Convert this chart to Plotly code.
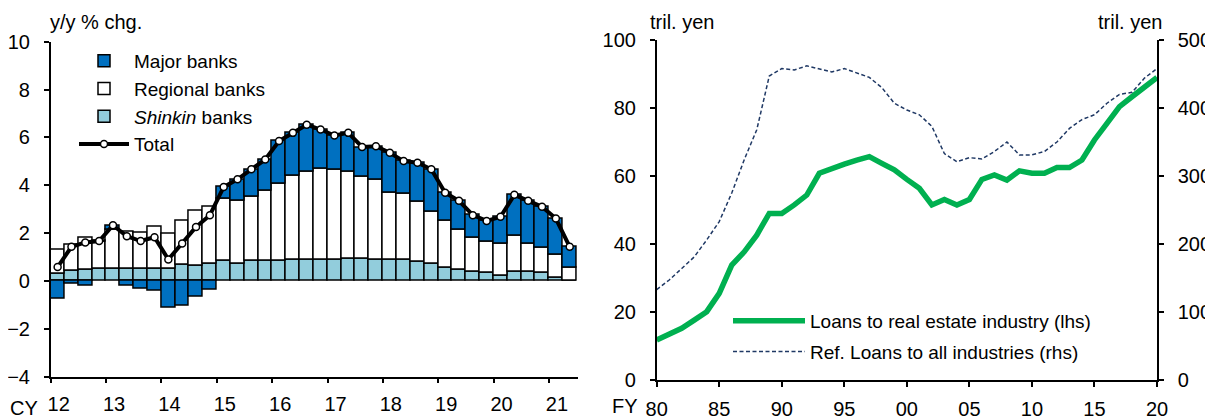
import plotly.graph_objects as go

# ---------------- Left panel data (quarterly, 2012Q1 - 2021Q2) ----------------
cy_labels = ["12", "13", "14", "15", "16", "17", "18", "19", "20", "21"]

shinkin = [0.30, 0.42, 0.49, 0.50, 0.50, 0.50, 0.50, 0.50, 0.50, 0.66,
           0.65, 0.74, 0.83, 0.74, 0.83, 0.83, 0.83, 0.88, 0.90, 0.90,
           0.90, 0.94, 0.94, 0.90, 0.90, 0.90, 0.80, 0.74, 0.56, 0.47,
           0.39, 0.35, 0.22, 0.39, 0.39, 0.33, 0.14, 0.03]
regional = [1.00, 1.10, 1.30, 1.15, 1.65, 1.56, 1.50, 1.75, 1.49, 1.88,
            2.27, 2.36, 2.62, 2.63, 2.71, 2.96, 3.25, 3.50, 3.66, 3.79,
            3.75, 3.63, 3.43, 3.34, 2.79, 2.73, 2.51, 2.15, 1.98, 1.68,
            1.42, 1.29, 1.32, 1.50, 1.18, 1.06, 0.94, 0.53]
major = [-0.76, -0.10, -0.18, 0.02, 0.15, -0.20, -0.33, -0.42, -1.10, -1.03,
         -0.65, -0.35, 0.48, 0.88, 1.13, 1.29, 1.77, 1.81, 1.97, 1.64,
         1.43, 1.62, 1.22, 1.39, 1.67, 1.38, 1.63, 1.78, 1.15, 1.20,
         0.94, 0.87, 1.14, 1.71, 1.78, 1.71, 1.53, 0.87]
total = [0.58, 1.43, 1.61, 1.67, 2.33, 1.87, 1.67, 1.83, 0.90, 1.57,
         2.26, 2.75, 3.93, 4.25, 4.67, 5.08, 5.85, 6.19, 6.53, 6.33,
         6.08, 6.19, 5.60, 5.63, 5.36, 5.01, 4.94, 4.67, 3.69, 3.35,
         2.75, 2.51, 2.68, 3.60, 3.35, 3.10, 2.61, 1.43]

# ---------------- Right panel data (fiscal years 1980 - 2020) ----------------
fy = list(range(1980, 2021))
fy_tick_labels = ["80", "85", "90", "95", "00", "05", "10", "15", "20"]
real_estate = [11.8, 13.7, 15.2, 17.6, 20.1, 25.5, 33.8, 37.7, 42.6, 49.0,
               49.0, 51.5, 54.4, 60.8, 62.3, 63.5, 64.7, 65.7, 63.7, 61.8,
               59.0, 56.4, 51.5, 53.1, 51.5, 53.1, 59.0, 60.3, 58.8, 61.5,
               60.8, 60.8, 62.5, 62.5, 64.7, 70.6, 75.5, 80.4, 83.3, 86.3,
               89.0]
all_industries = [133, 147, 164, 181, 206, 233, 275, 324, 368, 447,
                  458, 456, 462, 458, 453, 458, 452, 445, 430, 407,
                  397, 390, 373, 333, 321, 327, 325, 336, 350, 331,
                  331, 336, 350, 370, 383, 390, 407, 420, 423, 444,
                  458]

FONT = "Arial, Liberation Sans, sans-serif"
OFF = 8                      # page body margin of the html file
W, H = 1213 - OFF, 419 - OFF
TOP, BOT = 40, 380           # plot area rows in window pixels


def px(X):
    return (X - OFF) / W


def py(Y):
    return (BOT - Y) / (BOT - TOP)


fig = go.Figure()
xq = list(range(len(total)))
line_style = dict(color="black", width=1.5)

fig.add_trace(go.Bar(x=xq, y=shinkin, name="<i>Shinkin</i> banks",
                     marker=dict(color="#92CDDC", line=line_style), width=1,
                     xaxis="x", yaxis="y", legend="legend", legendrank=3))
fig.add_trace(go.Bar(x=xq, y=regional, name="Regional banks",
                     marker=dict(color="white", line=line_style), width=1,
                     xaxis="x", yaxis="y", legend="legend", legendrank=2))
fig.add_trace(go.Bar(x=xq, y=major, name="Major banks",
                     marker=dict(color="#0070C0", line=line_style), width=1,
                     xaxis="x", yaxis="y", legend="legend", legendrank=1))
fig.add_trace(go.Scatter(x=xq, y=total, name="Total", mode="lines+markers",
                         line=dict(color="black", width=4),
                         marker=dict(symbol="circle", size=7, color="white",
                                     line=dict(color="black", width=1.5)),
                         xaxis="x", yaxis="y", legend="legend", legendrank=4))

fig.add_trace(go.Scatter(x=fy, y=real_estate, name="Loans to real estate industry (lhs)",
                         mode="lines", line=dict(color="#00B050", width=5.5),
                         xaxis="x2", yaxis="y2", legend="legend2", legendrank=1,
                         legendgroup="re"))
fig.add_trace(go.Scatter(x=fy, y=all_industries, name="Ref. Loans to all industries (rhs)",
                         mode="lines", line=dict(color="#1F3864", width=1.5, dash="4px,2.5px"),
                         xaxis="x2", yaxis="y3", legend="legend2", legendrank=2,
                         legendgroup="all"))

axis_common = dict(showline=True, linecolor="black", linewidth=1.5, showgrid=False,
                   zeroline=False, ticks="outside", ticklen=5, tickwidth=1.5,
                   tickcolor="black", tickfont=dict(family=FONT, size=20, color="black"))

n = len(total)
fig.update_layout(
    width=W, height=H,
    margin=dict(l=0, r=0, t=TOP - OFF, b=(419 - BOT), autoexpand=False),
    paper_bgcolor="white", plot_bgcolor="white",
    barmode="relative", bargap=0,
    font=dict(family=FONT, size=20, color="black"),
    xaxis=dict(axis_common, domain=[px(50.7), px(578)], range=[-0.5, n - 0.4],
               tickmode="array", tickvals=[4 * i - 0.5 for i in range(len(cy_labels))],
               ticktext=cy_labels, anchor="y", ticklabelstandoff=4, ticklabelshift=8),
    yaxis=dict(axis_common, domain=[py(376.7), py(41.7)], range=[-4, 10], dtick=2,
               anchor="x", ticklabelstandoff=10),
    xaxis2=dict(axis_common, domain=[px(656.7), px(1157)], range=[1980, 2020],
                tickmode="array", tickvals=list(range(1980, 2021, 5)),
                ticktext=fy_tick_labels, anchor="y2", ticklabelstandoff=5),
    yaxis2=dict(axis_common, domain=[0, 1], range=[0, 100], dtick=20, anchor="x2",
                ticklabelstandoff=10),
    yaxis3=dict(axis_common, domain=[0, 1], range=[0, 500], dtick=100, anchor="x2",
                overlaying="y2", side="right", ticklabelstandoff=10),
    legend=dict(x=px(74), y=py(42), xanchor="left", yanchor="top",
                bgcolor="rgba(0,0,0,0)", traceorder="normal", itemwidth=50,
                font=dict(family=FONT, size=19, color="black"), tracegroupgap=0),
    legend2=dict(x=px(728), y=py(371), xanchor="left", yanchor="bottom",
                 bgcolor="rgba(0,0,0,0)", traceorder="grouped", itemwidth=72,
                 tracegroupgap=3,
                 font=dict(family=FONT, size=19, color="black")),
    showlegend=True,
)

ann_font = dict(family=FONT, size=20, color="black")
fig.add_annotation(text="y/y % chg.", x=px(48), y=py(22), xref="paper", yref="paper",
                   xanchor="left", yanchor="middle", showarrow=False, font=ann_font)
fig.add_annotation(text="tril. yen", x=px(648), y=py(22), xref="paper", yref="paper",
                   xanchor="left", yanchor="middle", showarrow=False, font=ann_font)
fig.add_annotation(text="tril. yen", x=px(1164), y=py(22), xref="paper", yref="paper",
                   xanchor="right", yanchor="middle", showarrow=False, font=ann_font)
fig.add_annotation(text="CY", x=px(40), y=py(408), xref="paper", yref="paper",
                   xanchor="right", yanchor="middle", showarrow=False, font=ann_font)
fig.add_annotation(text="FY", x=px(640), y=py(406), xref="paper", yref="paper",
                   xanchor="right", yanchor="middle", showarrow=False, font=ann_font)

fig.write_html("out.html")
